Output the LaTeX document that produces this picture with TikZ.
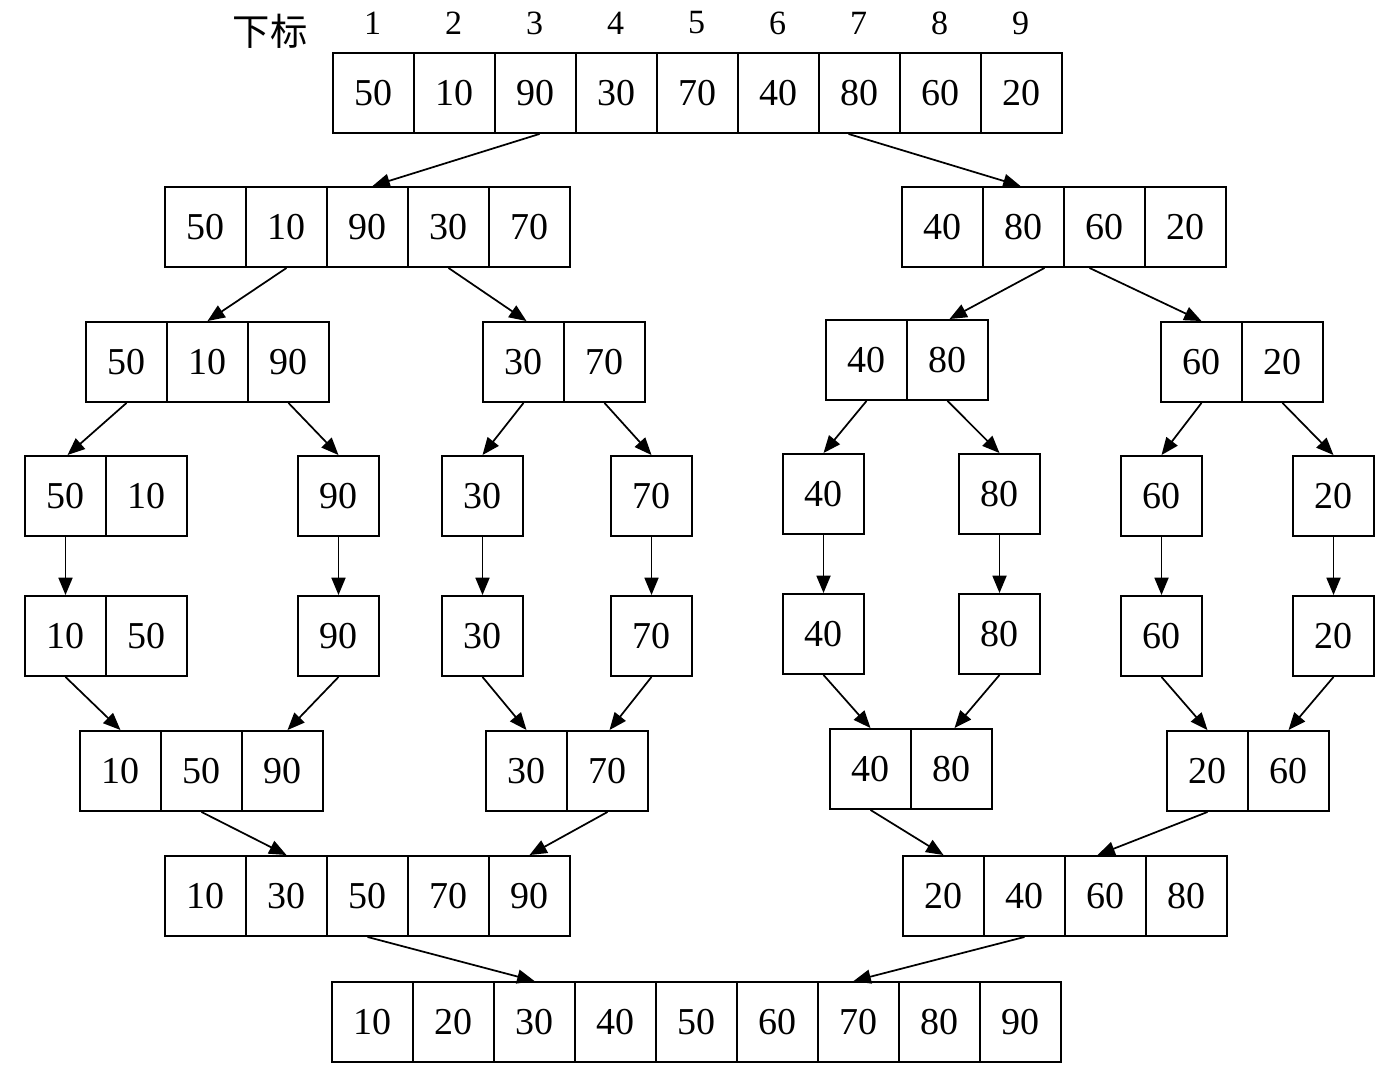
\documentclass[tikz,border=0pt]{standalone}
\usepackage{fontspec}
\setmainfont{Liberation Serif}
\newfontfamily\cjk{Noto Sans CJK SC}
\usetikzlibrary{calc,arrows.meta}
\newcommand{\cellrow}[4]{%
  \foreach \v [count=\i] in {#4} {%
    \node[cell] (#1-\i) at ({#2+81*\i-40.5},{#3+40}) {\v};}}
\begin{document}
\begin{tikzpicture}[x=0.75pt,y=-0.75pt,
  cell/.style={draw,line width=1.45pt,minimum width=60.75pt,minimum height=60pt,inner sep=0pt,font=\fontsize{28.5}{30}\selectfont},
  idx/.style={inner sep=0pt,font=\fontsize{25.5}{28}\selectfont},
  arr/.style={line width=1.3pt,-{Triangle[length=13pt,width=10.5pt]}}]
\useasboundingbox (0,0) rectangle (1398,1080);
% rows
\cellrow{r1}{333}{53}{50,10,90,30,70,40,80,60,20}
\cellrow{r2a}{165}{187}{50,10,90,30,70}
\cellrow{r2b}{902}{187}{40,80,60,20}
\cellrow{r3a}{86}{322}{50,10,90}
\cellrow{r3b}{483}{322}{30,70}
\cellrow{r3c}{826}{320}{40,80}
\cellrow{r3d}{1161}{322}{60,20}
\cellrow{r4a}{25}{456}{50,10}
\cellrow{r4b}{298}{456}{90}
\cellrow{r4c}{442}{456}{30}
\cellrow{r4d}{611}{456}{70}
\cellrow{r4e}{783}{454}{40}
\cellrow{r4f}{959}{454}{80}
\cellrow{r4g}{1121}{456}{60}
\cellrow{r4h}{1293}{456}{20}
\cellrow{r5a}{25}{596}{10,50}
\cellrow{r5b}{298}{596}{90}
\cellrow{r5c}{442}{596}{30}
\cellrow{r5d}{611}{596}{70}
\cellrow{r5e}{783}{594}{40}
\cellrow{r5f}{959}{594}{80}
\cellrow{r5g}{1121}{596}{60}
\cellrow{r5h}{1293}{596}{20}
\cellrow{r6a}{80}{731}{10,50,90}
\cellrow{r6b}{486}{731}{30,70}
\cellrow{r6c}{830}{729}{40,80}
\cellrow{r6d}{1167}{731}{20,60}
\cellrow{r7a}{165}{856}{10,30,50,70,90}
\cellrow{r7b}{903}{856}{20,40,60,80}
\cellrow{r8}{332}{982}{10,20,30,40,50,60,70,80,90}
% index labels
\node[font=\cjk\fontsize{28}{30}\selectfont,inner sep=0pt] (lbl) at (270,31) {下标};
\foreach \i in {1,...,9} {\node[idx] (ix\i) at ($(r1-\i.north)+(-1,-29)$) {\i};}
% arrows row1 -> row2
\draw[arr] ($(r1-3.south)+(4,0)$) -- ($(r2a-3.north)+(5,0)$);
\draw[arr] ($(r1-7.south)+(-11,0)$) -- ($(r2b-2.north)+(-3,0)$);
% row2 -> row3
\draw[arr] (r2a-2.south) -- (r3a-2.north);
\draw[arr] (r2a-4.south) -- ($(r3b-1.north)+(3,0)$);
\draw[arr] ($(r2b-2.south)+(21,0)$) -- ($(r3c-2.north)+(2,0)$);
\draw[arr] ($(r2b-3.south)+(-15,0)$) -- (r3d-1.north);
% row3 -> row4
\draw[arr] (r3a-1.south) -- ($(r4a-1.north)+(2,0)$);
\draw[arr] (r3a-3.south) -- (r4b-1.north);
\draw[arr] (r3b-1.south) -- (r4c-1.north);
\draw[arr] (r3b-2.south) -- (r4d-1.north);
\draw[arr] (r3c-1.south) -- (r4e-1.north);
\draw[arr] (r3c-2.south) -- (r4f-1.north);
\draw[arr] (r3d-1.south) -- (r4g-1.north);
\draw[arr] (r3d-2.south) -- (r4h-1.north);
% row4 -> row5
\foreach \n in {a,b,c,d,e,f,g,h} {\draw[arr] (r4\n-1.south) -- (r5\n-1.north);}
% row5 -> row6
\draw[arr] (r5a-1.south) -- (r6a-1.north);
\draw[arr] (r5b-1.south) -- ($(r6a-3.north)+(5,0)$);
\draw[arr] (r5c-1.south) -- (r6b-1.north);
\draw[arr] (r5d-1.south) -- ($(r6b-2.north)+(2,0)$);
\draw[arr] (r5e-1.south) -- (r6c-1.north);
\draw[arr] (r5f-1.south) -- ($(r6c-2.north)+(3,0)$);
\draw[arr] (r5g-1.south) -- (r6d-1.north);
\draw[arr] (r5h-1.south) -- (r6d-2.north);
% row6 -> row7
\draw[arr] (r6a-2.south) -- (r7a-2.north);
\draw[arr] (r6b-2.south) -- (r7a-5.north);
\draw[arr] (r6c-1.south) -- (r7b-1.north);
\draw[arr] (r6d-1.south) -- ($(r7b-3.north)+(-8,0)$);
% row7 -> row8
\draw[arr] (r7a-3.south) -- (r8-3.north);
\draw[arr] (r7b-2.south) -- ($(r8-7.north)+(-5,0)$);
\end{tikzpicture}
\end{document}
